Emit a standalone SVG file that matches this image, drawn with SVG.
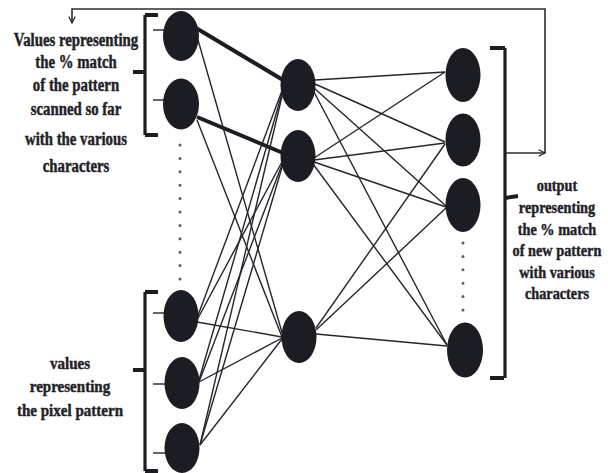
<svg xmlns="http://www.w3.org/2000/svg" width="608" height="473" viewBox="0 0 608 473">
<style>
.n{fill:#1b1d22}
.e{stroke:#23262c;stroke-width:1.4;fill:none}
.th{stroke:#1b1d22;stroke-width:4;fill:none}
.br{stroke:#1b1d22;stroke-width:3.2;fill:none}
.tk{stroke:#1b1d22;stroke-width:4;fill:none}
.fb{stroke:#2a2d33;stroke-width:1.6;fill:none}
.dots{stroke:#5a5c60;stroke-width:3;stroke-linecap:round;stroke-dasharray:0 13.4;fill:none}
.t{font-family:"Liberation Serif","Times New Roman",serif;font-weight:bold;fill:#1f2228;stroke:#1f2228;stroke-width:0.45;text-anchor:middle}
</style>
<defs>
<marker id="ah" viewBox="0 0 10 10" refX="9" refY="5" markerWidth="8" markerHeight="8" markerUnits="userSpaceOnUse" orient="auto">
<path d="M1,1 L9,5 L1,9" fill="none" stroke="#2a2d33" stroke-width="1.6"/>
</marker>
</defs>
<g id="connectors">
<line class="th" x1="196" y1="28" x2="283" y2="80"/>
<line class="th" x1="197" y1="117" x2="283" y2="153"/>
<line class="e" x1="198" y1="40" x2="283" y2="336"/>
<line class="e" x1="197" y1="120" x2="282" y2="337"/>
<line class="e" x1="197" y1="318" x2="283" y2="88"/>
<line class="e" x1="197" y1="320" x2="283" y2="160"/>
<line class="e" x1="197" y1="322" x2="282" y2="337"/>
<line class="e" x1="199" y1="380" x2="283" y2="90"/>
<line class="e" x1="199" y1="382" x2="283" y2="162"/>
<line class="e" x1="199" y1="382" x2="282" y2="338"/>
<line class="e" x1="200" y1="445" x2="283" y2="92"/>
<line class="e" x1="200" y1="445" x2="283" y2="164"/>
<line class="e" x1="200" y1="445" x2="282" y2="339"/>
<line class="e" x1="315" y1="80" x2="445" y2="72"/>
<line class="e" x1="315" y1="84" x2="445" y2="142"/>
<line class="e" x1="314" y1="88" x2="446" y2="206"/>
<line class="e" x1="313" y1="90" x2="447" y2="345"/>
<line class="e" x1="314" y1="158" x2="445" y2="72"/>
<line class="e" x1="314" y1="160" x2="445" y2="143"/>
<line class="e" x1="314" y1="162" x2="446" y2="207"/>
<line class="e" x1="313" y1="164" x2="447" y2="345"/>
<line class="e" x1="316" y1="328" x2="445" y2="144"/>
<line class="e" x1="316" y1="330" x2="446" y2="208"/>
<line class="e" x1="316" y1="334" x2="447" y2="346"/>
<line class="e" x1="153" y1="30" x2="166" y2="30"/>
<line class="e" x1="153" y1="100" x2="166" y2="100"/>
<line class="e" x1="153" y1="313" x2="166" y2="313"/>
<line class="e" x1="153" y1="384" x2="166" y2="384"/>
<line class="e" x1="153" y1="453" x2="166" y2="453"/>
<line class="dots" x1="180" y1="145" x2="180" y2="290"/>
<line class="dots" x1="463" y1="243" x2="463" y2="312"/>
<path class="br" d="M145,15 V135"/>
<path class="tk" d="M145,15 H158 M145,135 H158 M133,72 H145"/>
<path class="br" d="M145,292 V471"/>
<path class="tk" d="M145,292 H158 M145,471 H158 M133,370 H145"/>
<path class="br" d="M505,48 V378"/>
<path class="tk" d="M490,48 H505 M490,378 H504 M505,198 L518,196"/>
<path class="fb" d="M505,153 H545" marker-end="url(#ah)"/>
<path class="fb" d="M545,153 V9 H72 V23" marker-end="url(#ah)"/>
</g>
<g id="in1"><ellipse class="n" cx="181" cy="36" rx="18" ry="25"/></g>
<g id="in2"><ellipse class="n" cx="181" cy="104" rx="18" ry="25.5"/></g>
<g id="in3"><ellipse class="n" cx="181" cy="316" rx="17.5" ry="26"/></g>
<g id="in4"><ellipse class="n" cx="182" cy="383" rx="17.5" ry="26"/></g>
<g id="in5"><ellipse class="n" cx="182" cy="448" rx="17.5" ry="25"/></g>
<g id="h1"><ellipse class="n" cx="298" cy="85" rx="17.5" ry="26"/></g>
<g id="h2"><ellipse class="n" cx="298" cy="156" rx="17.5" ry="26"/></g>
<g id="h3"><ellipse class="n" cx="299" cy="337" rx="17.5" ry="26"/></g>
<g id="o1"><ellipse class="n" cx="463" cy="75" rx="17.5" ry="27"/></g>
<g id="o2"><ellipse class="n" cx="463" cy="140" rx="17.5" ry="26.5"/></g>
<g id="o3"><ellipse class="n" cx="463" cy="205" rx="17.5" ry="27"/></g>
<g id="o4"><ellipse class="n" cx="465" cy="350" rx="18" ry="27.5"/></g>
<g id="label-top-left" transform="translate(76,0) scale(0.8,1)">
<text class="t" font-size="18.5" x="0" y="46">Values representing</text>
<text class="t" font-size="18.5" x="0" y="68">the % match</text>
<text class="t" font-size="18.5" x="0" y="91">of the pattern</text>
<text class="t" font-size="18.5" x="0" y="115">scanned so far</text>
<text class="t" font-size="18.5" x="0" y="145">with the various</text>
<text class="t" font-size="18.5" x="0" y="172">characters</text>
</g>
<g id="label-bottom-left" transform="translate(70,0) scale(0.86,1)">
<text class="t" font-size="17.5" x="0" y="369">values</text>
<text class="t" font-size="17.5" x="0" y="392">representing</text>
<text class="t" font-size="17.5" x="0" y="416">the pixel pattern</text>
</g>
<g id="label-right" transform="translate(557,0) scale(0.84,1)">
<text class="t" font-size="17" x="0" y="191">output</text>
<text class="t" font-size="17" x="0" y="213">representing</text>
<text class="t" font-size="17" x="0" y="235">the % match</text>
<text class="t" font-size="17" x="0" y="256">of new pattern</text>
<text class="t" font-size="17" x="0" y="278">with various</text>
<text class="t" font-size="17" x="0" y="299">characters</text>
</g>
</svg>
